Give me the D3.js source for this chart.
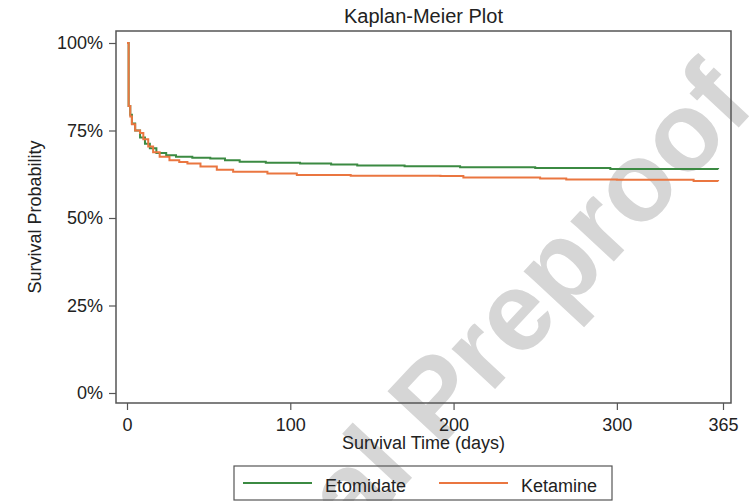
<!DOCTYPE html>
<html>
<head>
<meta charset="utf-8">
<script src="https://cdn.jsdelivr.net/npm/d3@7"></script>
<style>
  body { margin: 0; background: #fff; }
  svg { font-family: "Liberation Sans", Arial, sans-serif; }
</style>
</head>
<body>
<svg width="754" height="501"></svg>
<script>
// Kaplan-Meier curves (days, survival fraction)
const etoDays = [0, 1, 2, 3, 5, 8, 11, 14, 18, 24, 30, 40, 51, 60, 69, 85, 106, 125, 141, 170, 204, 250, 296, 362];
const etoSurv = [1.00, 0.82, 0.795, 0.77, 0.75, 0.73, 0.712, 0.699, 0.686, 0.679, 0.675, 0.672, 0.670, 0.665, 0.661, 0.658, 0.656, 0.653, 0.650, 0.648, 0.645, 0.643, 0.640, 0.639];

const ketDays = [0, 1, 2, 3, 5, 8, 10, 13, 16, 20, 26, 32, 37, 45, 55, 65, 86, 104, 137, 192, 206, 253, 269, 300, 347, 362];
const ketSurv = [1.00, 0.82, 0.79, 0.768, 0.75, 0.743, 0.725, 0.704, 0.688, 0.675, 0.665, 0.660, 0.656, 0.647, 0.638, 0.632, 0.627, 0.623, 0.621, 0.620, 0.616, 0.613, 0.610, 0.609, 0.606, 0.605];

const groups = ["Etomidate", "Ketamine"];
const colors = ["#3b8a42", "#ea7640"];
const xTicks = [0, 100, 200, 300, 365];
const yTicks = [0, 0.25, 0.5, 0.75, 1];

const svg = d3.select("svg");
const frame = { left: 116, right: 731, top: 31, bottom: 403 };

const x = d3.scaleLinear().domain([0, 365]).range([127, 723]);
const y = d3.scaleLinear().domain([0, 1]).range([393, 43]);

// watermark sits behind everything
svg.append("text")
  .attr("transform", "translate(757,108) rotate(-47)")
  .attr("text-anchor", "end")
  .attr("font-size", 112)
  .attr("font-weight", "bold")
  .attr("fill", "#d6d6d6")
  .text("Journal Preproof");

svg.append("text")
  .attr("x", (frame.left + frame.right) / 2)
  .attr("y", 23)
  .attr("text-anchor", "middle")
  .attr("font-size", 20)
  .attr("fill", "#222")
  .text("Kaplan-Meier Plot");

svg.append("rect")
  .attr("x", frame.left)
  .attr("y", frame.top)
  .attr("width", frame.right - frame.left)
  .attr("height", frame.bottom - frame.top)
  .attr("fill", "none")
  .attr("stroke", "#555")
  .attr("stroke-width", 1.5);

const xAxis = svg.append("g")
  .attr("transform", "translate(0," + frame.bottom + ")")
  .call(d3.axisBottom(x).tickValues(xTicks).tickSize(7).tickPadding(8));

const yAxis = svg.append("g")
  .attr("transform", "translate(" + frame.left + ",0)")
  .call(d3.axisLeft(y).tickValues(yTicks).tickSize(7).tickPadding(6).tickFormat(d3.format(".0%")));

[xAxis, yAxis].forEach(function(a) {
  a.select(".domain").remove();
  a.selectAll(".tick line").attr("stroke", "#555").attr("stroke-width", 1.2);
  a.selectAll(".tick text")
    .attr("font-size", 18)
    .attr("fill", "#222")
    .attr("font-family", "Liberation Sans, Arial, sans-serif");
});

svg.append("text")
  .attr("x", (frame.left + frame.right) / 2)
  .attr("y", 449)
  .attr("text-anchor", "middle")
  .attr("font-size", 18)
  .attr("fill", "#222")
  .text("Survival Time (days)");

svg.append("text")
  .attr("transform", "translate(41,217) rotate(-90)")
  .attr("text-anchor", "middle")
  .attr("font-size", 18)
  .attr("fill", "#222")
  .text("Survival Probability");

const line = d3.line()
  .x(function(d) { return x(d[0]); })
  .y(function(d) { return y(d[1]); })
  .curve(d3.curveStepAfter);

const series = [
  d3.zip(etoDays, etoSurv),
  d3.zip(ketDays, ketSurv)
];

svg.selectAll(".km")
  .data(series)
  .enter()
  .append("path")
  .attr("class", "km")
  .attr("d", line)
  .attr("fill", "none")
  .attr("stroke", function(d, i) { return colors[i]; })
  .attr("stroke-width", 2);

// legend
const legend = svg.append("g");
legend.append("rect")
  .attr("x", 234)
  .attr("y", 466)
  .attr("width", 378)
  .attr("height", 34)
  .attr("fill", "none")
  .attr("stroke", "#555")
  .attr("stroke-width", 1.2);

const legX = [243, 439];
groups.forEach(function(g, i) {
  legend.append("line")
    .attr("x1", legX[i])
    .attr("x2", legX[i] + 69)
    .attr("y1", 483)
    .attr("y2", 483)
    .attr("stroke", colors[i])
    .attr("stroke-width", 2);
  legend.append("text")
    .attr("x", legX[i] + 82)
    .attr("y", 492)
    .attr("font-size", 18)
    .attr("fill", "#222")
    .text(g);
});
</script>
</body>
</html>
